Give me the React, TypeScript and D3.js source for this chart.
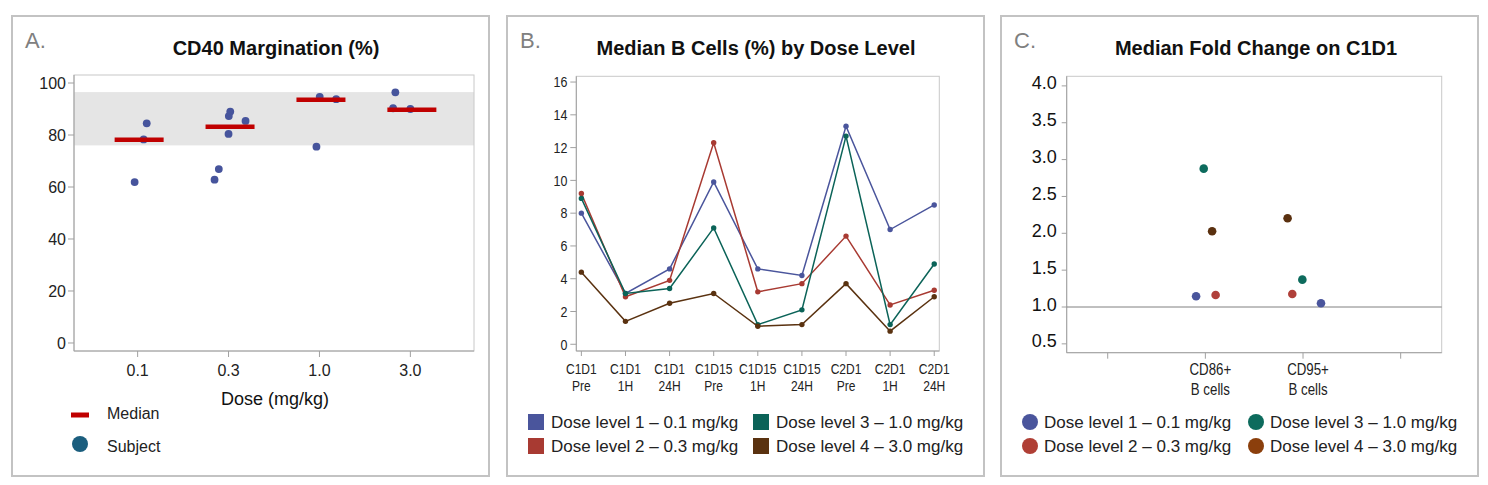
import * as d3 from 'd3';

// ---- data ----
const doseLabels = ['0.1', '0.3', '1.0', '3.0'];
const marginationSubjects = [
  [84.5, 78.3, 61.9],
  [89.0, 87.3, 85.4, 80.4, 66.9, 62.8],
  [94.7, 93.8, 75.5],
  [96.4, 90.3, 90.0],
];
// horizontal jitter of each subject, in category steps
const marginationJitter = [
  [0.1, 0.066, -0.033],
  [0.019, 0.003, 0.187, 0, -0.107, -0.154],
  [0.003, 0.184, -0.033],
  [-0.165, -0.19, 0],
];
const marginationMedians = [78.2, 83.2, 93.6, 89.7];
const normalRange = [76, 96.5];
const marginationTicks = [0, 20, 40, 60, 80, 100];

const timepoints = [
  ['C1D1', 'Pre'],
  ['C1D1', '1H'],
  ['C1D1', '24H'],
  ['C1D15', 'Pre'],
  ['C1D15', '1H'],
  ['C1D15', '24H'],
  ['C2D1', 'Pre'],
  ['C2D1', '1H'],
  ['C2D1', '24H'],
];
const bCellsDose1 = [8.0, 3.1, 4.6, 9.9, 4.6, 4.2, 13.3, 7.0, 8.5];
const bCellsDose2 = [9.2, 2.9, 3.9, 12.3, 3.2, 3.7, 6.6, 2.4, 3.3];
const bCellsDose3 = [8.9, 3.1, 3.4, 7.1, 1.2, 2.1, 12.7, 1.2, 4.9];
const bCellsDose4 = [4.4, 1.4, 2.5, 3.1, 1.1, 1.2, 3.7, 0.8, 2.9];
const bCellsTicks = [0, 2, 4, 6, 8, 10, 12, 14, 16];

const foldSlots = ['pad-left', 'CD86', 'CD95', 'pad-right'];
const foldLabels: Record<string, string[]> = {
  CD86: ['CD86+', 'B cells'],
  CD95: ['CD95+', 'B cells'],
};
const foldCD86 = [1.145, 1.163, 2.877, 2.028];
const foldCD95 = [1.05, 1.176, 1.371, 2.204];
const foldJitterCD86 = [-0.095, 0.105, -0.017, 0.069];
const foldJitterCD95 = [0.184, -0.11, -0.007, -0.158];
const foldTicks = [0.5, 1.0, 1.5, 2.0, 2.5, 3.0, 3.5, 4.0];

const doseNames = [
  'Dose level 1 \u2013 0.1 mg/kg',
  'Dose level 2 \u2013 0.3 mg/kg',
  'Dose level 3 \u2013 1.0 mg/kg',
  'Dose level 4 \u2013 3.0 mg/kg',
];
const lineColors = ['#4a559c', '#a83a32', '#0b6358', '#5a3210'];
const dotColorsC = ['#4a559c', '#b0403a', '#0d6b5d', '#5a300f'];
const legendColorsC = ['#4a559c', '#b03f35', '#0d6b5d', '#8b3f0c'];

const FONT = "'Liberation Sans', Arial, sans-serif";
const TXT = '#222';

// condensed text (the original uses a narrow face that is not installed here)
function Narrow({ x, y, size, anchor, dy, children }: { x: number; y: number; size: number; anchor: string; dy?: string; children: string }) {
  return (
    <text transform={`translate(${x},${y}) scale(0.83,1)`} dy={dy} fontSize={size} fill={TXT} textAnchor={anchor}>
      {children}
    </text>
  );
}

function Frame({ x, label, title, titleX }: { x: number; label: string; title: string; titleX: number }) {
  return (
    <g>
      <rect x={x} y={16} width={477} height={460} fill="#fff" stroke="#c3c3c3" strokeWidth={2} />
      <text x={x + 13} y={48} fontSize={22} fill="#808080">{label}</text>
      <text x={titleX} y={55} fontSize={20} fontWeight="bold" fill="#111" textAnchor="middle">{title}</text>
    </g>
  );
}

function PanelA() {
  const x0 = 74, x1 = 474, y0 = 75, y1 = 351;
  const x = d3.scalePoint<string>().domain(doseLabels).range([x0, x1]).padding(0.7);
  const y = d3.scaleLinear().domain([-3.08, 103.08]).range([y1, y0]);
  const step = x.step();
  return (
    <g>
      <Frame x={12} label="A." title="CD40 Margination (%)" titleX={276} />
      <rect x={x0} y={y(normalRange[1])} width={x1 - x0} height={y(normalRange[0]) - y(normalRange[1])} fill="#e5e5e5" />
      <rect x={x0} y={y0} width={x1 - x0} height={y1 - y0} fill="none" stroke="#c8c8c8" />
      <line x1={x0} x2={x0} y1={y0} y2={y1} stroke="#a0a0a0" />
      <line x1={x0} x2={x1} y1={y1} y2={y1} stroke="#a0a0a0" />
      {marginationTicks.map((t) => (
        <g key={t}>
          <line x1={x0 - 6} x2={x0} y1={y(t)} y2={y(t)} stroke="#a0a0a0" />
          <text x={x0 - 8} y={y(t)} dy="0.35em" fontSize={16} fill={TXT} textAnchor="end">{t}</text>
        </g>
      ))}
      {doseLabels.map((d) => (
        <g key={d}>
          <line x1={x(d)!} x2={x(d)!} y1={y1} y2={y1 + 6} stroke="#a0a0a0" />
          <text x={x(d)!} y={376} fontSize={16} fill={TXT} textAnchor="middle">{d}</text>
        </g>
      ))}
      <text x={275} y={405} fontSize={18} fill="#111" textAnchor="middle">Dose (mg/kg)</text>
      {marginationSubjects.map((vals, i) =>
        vals.map((v, j) => (
          <circle key={`${i}-${j}`} cx={x(doseLabels[i])! + marginationJitter[i][j] * step} cy={y(v)} r={3.9} fill="#46549c" />
        ))
      )}
      {marginationMedians.map((m, i) => (
        <line key={i} x1={x(doseLabels[i])! - 23} x2={x(doseLabels[i])! + 26} y1={y(m)} y2={y(m)} stroke="#c00000" strokeWidth={4.5} />
      ))}
      <line x1={71} x2={89} y1={415} y2={415} stroke="#c00000" strokeWidth={5} />
      <text x={107} y={419} fontSize={16} fill={TXT}>Median</text>
      <circle cx={80} cy={444} r={8} fill="#1b5e7e" />
      <text x={107} y={452} fontSize={16} fill={TXT}>Subject</text>
    </g>
  );
}

function PanelB() {
  const x0 = 576.3, x1 = 939.3, y0 = 76.3, y1 = 351;
  const keys = timepoints.map((t) => t.join(' '));
  const x = d3.scalePoint<string>().domain(keys).range([x0, x1]).padding(0.115);
  const y = d3.scaleLinear().domain([-0.41, 16.35]).range([y1, y0]);
  const series = [bCellsDose1, bCellsDose2, bCellsDose3, bCellsDose4];
  const line = d3
    .line<number>()
    .x((_d, i) => x(keys[i])!)
    .y((d) => y(d));
  return (
    <g>
      <Frame x={507} label="B." title="Median B Cells (%) by Dose Level" titleX={756} />
      <rect x={x0} y={y0} width={x1 - x0} height={y1 - y0} fill="none" stroke="#c8c8c8" />
      <line x1={x0} x2={x0} y1={y0} y2={y1} stroke="#a0a0a0" />
      <line x1={x0} x2={x1} y1={y1} y2={y1} stroke="#a0a0a0" />
      {bCellsTicks.map((t) => (
        <g key={t}>
          <line x1={x0 - 6} x2={x0} y1={y(t)} y2={y(t)} stroke="#a0a0a0" />
          <Narrow x={x0 - 9} y={y(t)} dy="0.35em" size={15} anchor="end">{String(t)}</Narrow>
        </g>
      ))}
      {timepoints.map((t, i) => (
        <g key={keys[i]}>
          <line x1={x(keys[i])!} x2={x(keys[i])!} y1={y1} y2={y1 + 5} stroke="#a0a0a0" />
          <Narrow x={x(keys[i])!} y={374} size={14.5} anchor="middle">{t[0]}</Narrow>
          <Narrow x={x(keys[i])!} y={391} size={14.5} anchor="middle">{t[1]}</Narrow>
        </g>
      ))}
      {series.map((s, k) => (
        <g key={k}>
          <path d={line(s)!} fill="none" stroke={lineColors[k]} strokeWidth={1.5} />
          {s.map((v, i) => (
            <circle key={i} cx={x(keys[i])!} cy={y(v)} r={2.7} fill={lineColors[k]} />
          ))}
        </g>
      ))}
      {doseNames.map((n, k) => {
        const lx = k < 2 ? 528 : 753;
        const ly = k % 2 === 0 ? 422 : 446;
        return (
          <g key={n}>
            <rect x={lx} y={ly - 8} width={16} height={16} fill={lineColors[k]} />
            <text x={lx + 23} y={ly + 6} fontSize={17} fill={TXT}>{n}</text>
          </g>
        );
      })}
    </g>
  );
}

function PanelC() {
  const x0 = 1066.7, x1 = 1441.7, y0 = 76.3, y1 = 352.7;
  const x = d3.scalePoint<string>().domain(foldSlots).range([x0, x1]).padding(0.42);
  const y = d3.scaleLinear().domain([0.38, 4.13]).range([y1, y0]);
  const step = x.step();
  const groups = [
    { key: 'CD86', vals: foldCD86, jit: foldJitterCD86 },
    { key: 'CD95', vals: foldCD95, jit: foldJitterCD95 },
  ];
  return (
    <g>
      <Frame x={1001} label="C." title="Median Fold Change on C1D1" titleX={1256} />
      <rect x={x0} y={y0} width={x1 - x0} height={y1 - y0} fill="none" stroke="#c8c8c8" />
      <line x1={x0} x2={x0} y1={y0} y2={y1} stroke="#a0a0a0" />
      <line x1={x0} x2={x1} y1={y1} y2={y1} stroke="#a0a0a0" />
      {foldTicks.map((t) => (
        <g key={t}>
          <line x1={x0 - 5} x2={x0} y1={y(t)} y2={y(t)} stroke="#a0a0a0" />
          <text x={x0 - 10} y={y(t)} dy="0.2em" fontSize={18} fill="#111" textAnchor="end">{t.toFixed(1)}</text>
        </g>
      ))}
      {foldSlots.map((s) => (
        <g key={s}>
          <line x1={x(s)!} x2={x(s)!} y1={y1} y2={y1 + 6} stroke="#a0a0a0" />
          {foldLabels[s] && (
            <>
              <Narrow x={x(s)! + 5} y={375} size={16} anchor="middle">{foldLabels[s][0]}</Narrow>
              <Narrow x={x(s)! + 5} y={395} size={16} anchor="middle">{foldLabels[s][1]}</Narrow>
            </>
          )}
        </g>
      ))}
      <line x1={x0} x2={x1} y1={y(1)} y2={y(1)} stroke="#808080" />
      {groups.map((g) =>
        g.vals.map((v, k) => (
          <circle key={`${g.key}-${k}`} cx={x(g.key)! + g.jit[k] * step} cy={y(v)} r={4.3} fill={dotColorsC[k]} />
        ))
      )}
      {doseNames.map((n, k) => {
        const lx = k < 2 ? 1030 : 1256;
        const ly = k % 2 === 0 ? 422 : 446;
        return (
          <g key={n}>
            <circle cx={lx} cy={ly} r={8} fill={legendColorsC[k]} />
            <text x={lx + 14} y={ly + 6} fontSize={17} fill={TXT}>{n}</text>
          </g>
        );
      })}
    </g>
  );
}

export default function App() {
  return (
    <svg
      width={1488}
      height={485}
      style={{ position: 'absolute', left: 0, top: 0, background: '#fff' }}
      fontFamily={FONT}
    >
      <PanelA />
      <PanelB />
      <PanelC />
    </svg>
  );
}
